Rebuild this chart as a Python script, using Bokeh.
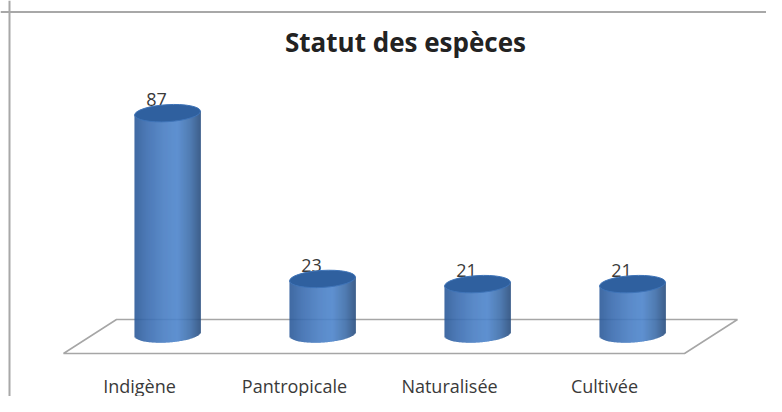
from bokeh.embed import file_html
from bokeh.resources import INLINE
from bokeh.plotting import figure
from bokeh.models import ColumnDataSource, FixedTicker, LinearAxis, Label, Span
from bokeh.core.properties import value

# Data
categories = ["Indigène", "Pantropicale", "Naturalisée", "Cultivée"]
counts = [87, 23, 21, 21]
chart_title = "Statut des espèces"

# Geometry
W, H = 766, 396
PX_PER_CAT = 155.0
PX_PER_VAL = 2.59
LABEL0_PX = 139.0    # x of first category label
BAR_SHIFT = 28 / PX_PER_CAT   # bars stand right of their labels
BASE_PX = 338.0      # y of value 0
FOOT = 4.5 / PX_PER_VAL  # the cylinders' bases sit a little above value 0 (perspective)

def xv(px):
    return 1 + (px - LABEL0_PX) / PX_PER_CAT

def yv(py):
    return (BASE_PX - py) / PX_PER_VAL

p = figure(width=W, height=H, output_backend="svg", toolbar_location=None,
           x_range=(xv(0), xv(W)), y_range=(yv(H), yv(0)),
           min_border=0, min_border_left=0, min_border_right=0,
           min_border_top=0, min_border_bottom=0,
           background_fill_color="white", border_fill_color="white",
           outline_line_color=None, x_axis_location=None, y_axis_location=None)
p.grid.visible = False

# Chart frame: only its top and left edges show
p.add_layout(Span(location=yv(11.5), dimension="width", line_color="#a8a8a8", line_width=2))
p.add_layout(Span(location=xv(9), dimension="height", line_color="#a8a8a8", line_width=2))

# Floor of the 3D chart
floor_x = [xv(63), xv(116), xv(737), xv(684)]
floor_y = [yv(353), yv(319), yv(319), yv(353)]
p.patch(floor_x, floor_y, fill_color="white", fill_alpha=1, line_color="#a6a6a6", line_width=1.5)

# Cylinders: vertical strips with shading
RADIUS = 33 / PX_PER_CAT
RY = 8.5 / PX_PER_VAL
TILT = 2.0 / PX_PER_VAL
STOPS = [(-1.0, (0x2c, 0x5a, 0x98)), (-0.6, (0x3b, 0x6d, 0xb0)), (-0.1, (0x49, 0x7e, 0xc3)),
         (0.3, (0x4e, 0x85, 0xcc)), (0.7, (0x3e, 0x6e, 0xa9)), (1.0, (0x2a, 0x4e, 0x7f))]

def shade(u):
    for (u0, c0), (u1, c1) in zip(STOPS, STOPS[1:]):
        if u <= u1:
            t = (u - u0) / (u1 - u0)
            return "#%02x%02x%02x" % tuple(round(a + (b - a) * t) for a, b in zip(c0, c1))
    return "#2a4e7f"

N = 66
left, right, top, bottom, colors = [], [], [], [], []
for i, v in enumerate(counts):
    cx = i + 1 + BAR_SHIFT
    for k in range(N):
        u0 = -1 + 2 * k / N
        u1 = -1 + 2 * (k + 1) / N
        um = (u0 + u1) / 2
        left.append(cx + u0 * RADIUS)
        right.append(cx + u1 * RADIUS + 0.002)
        top.append(v + um * TILT)
        bottom.append(FOOT + um * TILT - RY * (1 - um * um) ** 0.5)
        colors.append(shade(um))
p.quad(left=left, right=right, top=top, bottom=bottom, fill_color=colors, fill_alpha=1, line_color=None)

# Value labels (just behind the caps)
src = ColumnDataSource(dict(x=[i + 1 + BAR_SHIFT - 11 / PX_PER_CAT for i in range(len(counts))],
                            y=[v + 13.5 / PX_PER_VAL for v in counts],
                            t=[str(v) for v in counts]))
p.text("x", "y", text="t", source=src, text_align="center", text_baseline="middle",
       text_font=value("Open Sans"), text_font_size="18px", text_color="#3a3a3a")

# Caps
caps = ColumnDataSource(dict(x=[i + 1 + BAR_SHIFT for i in range(len(counts))], y=counts))
p.ellipse("x", "y", source=caps, width=2 * RADIUS, height=2 * RY, angle=0.06,
          fill_color="#2f609f", fill_alpha=1, line_color="#3f74b8", line_width=1)

# Category axis placed inside the frame
ax = LinearAxis(fixed_location=yv(360), ticker=FixedTicker(ticks=[1, 2, 3, 4]),
                major_label_overrides={i + 1: c for i, c in enumerate(categories)},
                axis_line_color=None, major_tick_line_color=None, minor_tick_line_color=None,
                major_label_text_font="Open Sans", major_label_text_font_size="18px",
                major_label_text_color="#3a3a3a", major_label_standoff=7)
p.add_layout(ax, "below")

p.add_layout(Label(x=xv(405), y=yv(41), text=chart_title, text_align="center",
                   text_baseline="middle", text_font="Open Sans", text_font_style="bold",
                   text_font_size="26px", text_color="#222222"))

open("out.html", "w").write(file_html(p, INLINE))
